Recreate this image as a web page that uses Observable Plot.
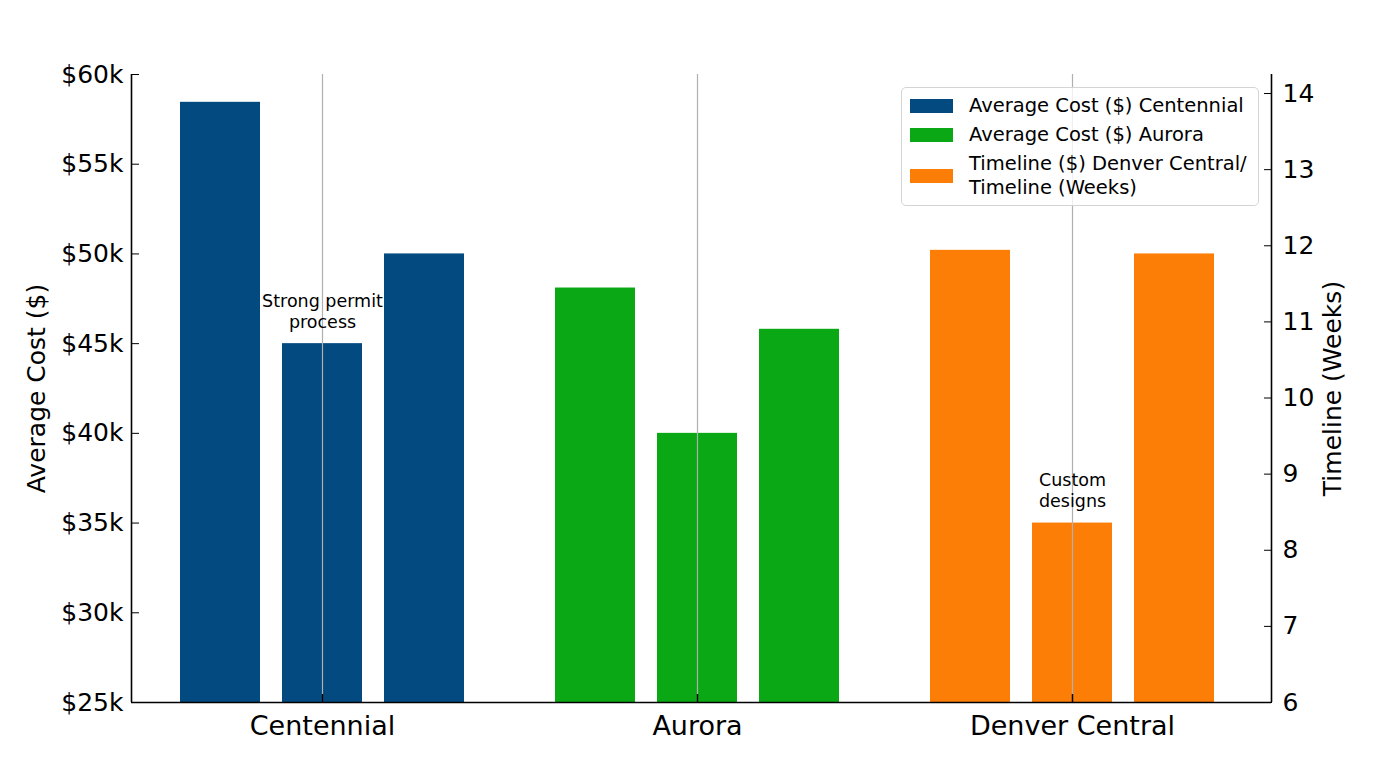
<!DOCTYPE html>
<html>
<head>
<meta charset="utf-8">
<script src="https://cdn.jsdelivr.net/npm/d3@7"></script>
<script src="https://cdn.jsdelivr.net/npm/@observablehq/plot@0.6"></script>
<style>
  html, body { margin: 0; padding: 0; background: #fff; overflow: hidden; }
  #wrap { position: relative; width: 1376px; height: 768px; font-family: "DejaVu Sans", sans-serif; }
  #wrap svg { position: absolute; left: 0; top: 0; }
  .legend { position: absolute; left: 901px; top: 87px; width: 358px; height: 119px; box-sizing: border-box;
            border: 1px solid #d4d4d4; border-radius: 5px; background: rgba(255,255,255,0.8);
            font-size: 19.5px; color: #000; padding-top: 6px; }
  .legend .row { display: flex; align-items: center; line-height: 24px; margin-bottom: 5px; }
  .legend .sw { width: 43px; height: 14px; margin-left: 8px; margin-right: 16px; flex: none; }
  .legend .lb { white-space: pre-line; }
</style>
</head>
<body>
<div id="wrap"></div>
<script>
// ---- data ----
const groups = ["Centennial", "Aurora", "Denver Central"];
const barSlots = ["first", "second", "third"];
const centennialCost = [58450, 45000, 50000];
const auroraCost = [48100, 40000, 45800];
const denverCost = [50200, 35000, 50000];
const colors = ["#034a80", "#0ba815", "#fd7e06"];
const costDomain = [25000, 60000];
const costTicks = [25000, 30000, 35000, 40000, 45000, 50000, 55000, 60000];
const weekDomain = [6, 14.25];
const weekTicks = [6, 7, 8, 9, 10, 11, 12, 13, 14];
const frameX = [0, 1];
const notes = [
  {group: "Centennial", slot: "second", text: "Strong permit\nprocess"},
  {group: "Denver Central", slot: "second", text: "Custom\ndesigns"}
];
const legendLabels = [
  "Average Cost ($) Centennial",
  "Average Cost ($) Aurora",
  "Timeline ($) Denver Central/\nTimeline (Weeks)"
];

// ---- table ----
const rows = [];
[centennialCost, auroraCost, denverCost].forEach((vals, gi) => {
  vals.forEach((v, si) => {
    const n = notes.find(d => d.group === groups[gi] && d.slot === barSlots[si]);
    rows.push({group: groups[gi], slot: barSlots[si], cost: v, note: n ? n.text : ""});
  });
});

const W = 1376, H = 768;
const M = {marginTop: 74, marginBottom: 66, marginLeft: 131, marginRight: 105};
const font = "DejaVu Sans, sans-serif";

// bars, gridlines, annotations, category labels
const chartA = Plot.plot({
  width: W, height: H, ...M,
  style: {fontFamily: font, fontSize: "25px", color: "#000", background: "#fff", overflow: "visible"},
  facet: {data: rows, x: "group"},
  fx: {domain: groups, axis: null, paddingInner: 0.1, paddingOuter: 0.07, align: 0.42},
  x: {domain: barSlots, axis: null, paddingInner: 0.218, paddingOuter: 0.2585},
  y: {domain: costDomain, axis: null},
  color: {domain: groups, range: colors},
  marks: [
    Plot.barY(rows, {x: "slot", y1: () => costDomain[0], y2: "cost", fill: "group"}),
    Plot.ruleX(rows, {filter: d => d.slot === barSlots[1], x: "slot", stroke: "#b0b0b0", strokeWidth: 1.2}),
    Plot.ruleX(rows, {filter: d => d.slot === barSlots[1], x: "slot", y1: () => costDomain[0], y2: () => costDomain[0],
                      stroke: "#000", strokeWidth: 1.5, insetTop: -8}),
    Plot.text(rows, {filter: d => d.note, x: "slot", y: "cost", text: "note", lineAnchor: "bottom",
                     dy: -16, fontSize: 17.5, lineHeight: 1.2, fill: "#000"}),
    Plot.text(rows, {filter: d => d.slot === barSlots[1], x: "slot", frameAnchor: "bottom", text: "group",
                     lineAnchor: "top", dy: 13, fontSize: 27, fill: "#000"})
  ]
});

// left axis (cost)
const chartC = Plot.plot({
  width: W, height: H, ...M,
  style: {fontFamily: font, fontSize: "25px", color: "#000", background: "transparent", overflow: "visible"},
  x: {domain: frameX, axis: null},
  y: {domain: costDomain, ticks: costTicks, tickFormat: d => `$${d / 1000}k`, tickSize: -8, tickPadding: 16,
      label: "Average Cost ($)", labelAnchor: "center", labelOffset: 104, labelArrow: false},
  marks: [
    Plot.ruleX([frameX[0]], {stroke: "#000", strokeWidth: 1.6})
  ]
});

// right axis (weeks) and bottom spine
const chartB = Plot.plot({
  width: W, height: H, ...M,
  style: {fontFamily: font, fontSize: "25px", color: "#000", background: "transparent", overflow: "visible"},
  x: {domain: frameX, axis: null},
  y: {domain: weekDomain, axis: "right", ticks: weekTicks, tickFormat: d => `${d}`, tickSize: -8, tickPadding: 19,
      label: "Timeline (Weeks)", labelAnchor: "center", labelOffset: 69, labelArrow: false},
  marks: [
    Plot.ruleY([weekDomain[0]], {stroke: "#000", strokeWidth: 1.6}),
    Plot.ruleX([frameX[1]], {stroke: "#000", strokeWidth: 1.6})
  ]
});

const wrap = document.getElementById("wrap");
wrap.appendChild(chartA);
wrap.appendChild(chartC);
wrap.appendChild(chartB);

const legend = document.createElement("div");
legend.className = "legend";
legendLabels.forEach((lab, i) => {
  const row = document.createElement("div");
  row.className = "row";
  const sw = document.createElement("div");
  sw.className = "sw";
  sw.style.background = colors[i];
  const lb = document.createElement("div");
  lb.className = "lb";
  lb.textContent = lab;
  row.appendChild(sw);
  row.appendChild(lb);
  legend.appendChild(row);
});
wrap.appendChild(legend);
</script>
</body>
</html>
